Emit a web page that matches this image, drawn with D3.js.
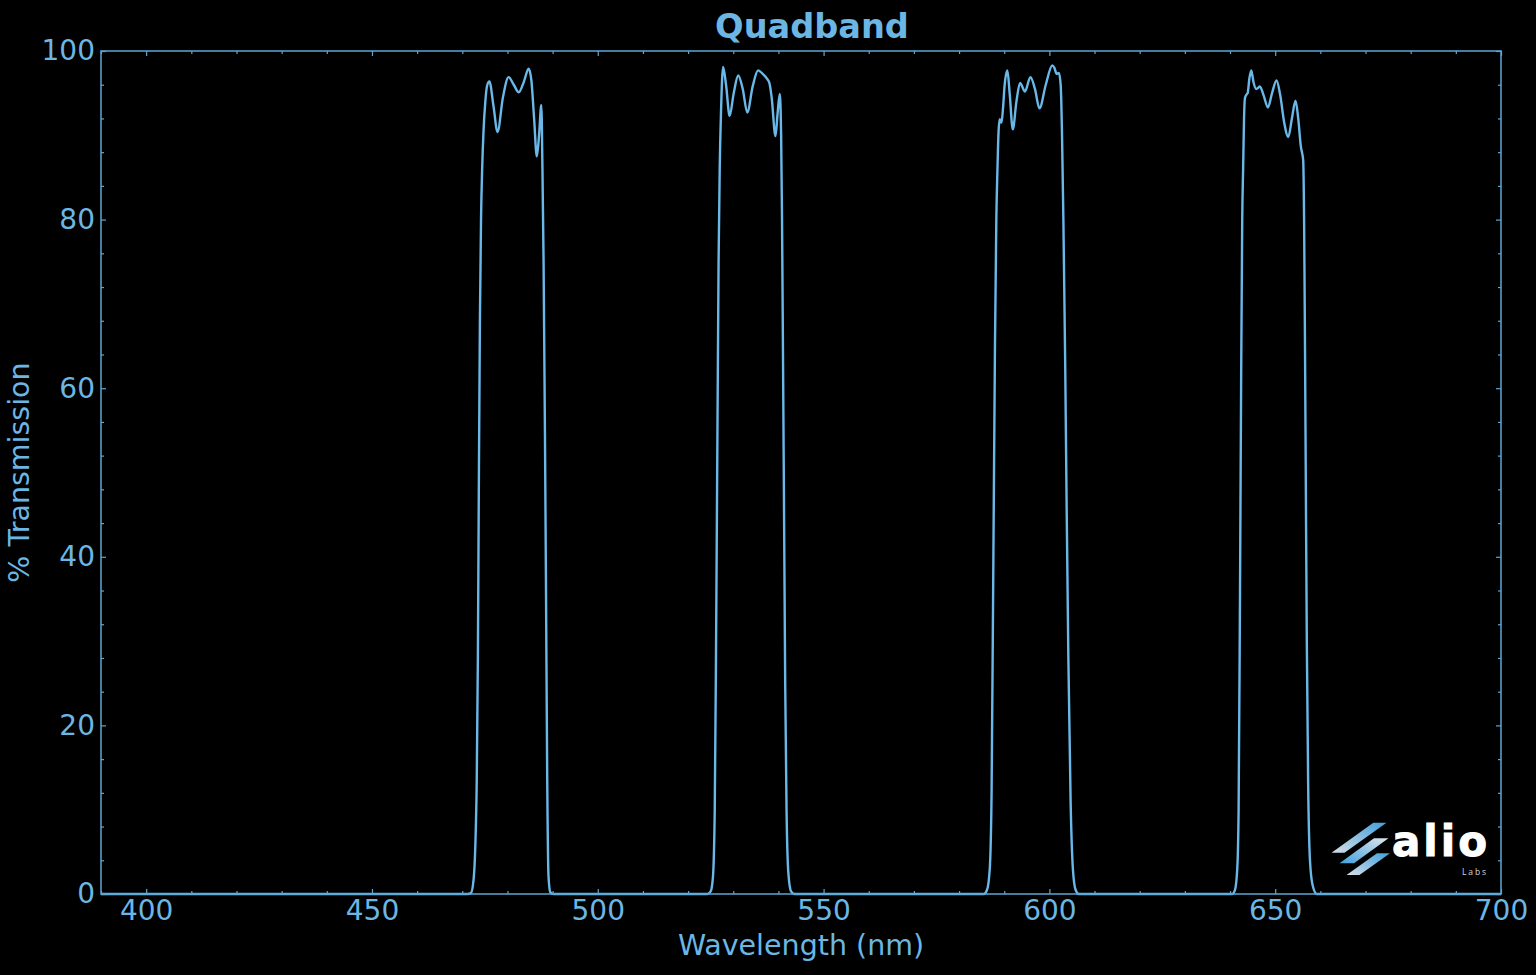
<!DOCTYPE html>
<html>
<head>
<meta charset="utf-8">
<script src="https://cdn.jsdelivr.net/npm/d3@7"></script>
<style>
  html, body { margin: 0; padding: 0; background: #000; }
  svg { display: block; }
</style>
</head>
<body>
<svg id="chart" width="1536" height="975"></svg>
<script>
// ---- data ----
const title = "Quadband";
const xLabel = "Wavelength (nm)";
const yLabel = "% Transmission";
const xDomain = [390, 700];
const yDomain = [0, 100];
const xMajorTicks = [400, 450, 500, 550, 600, 650, 700];
const yMajorTicks = [0, 20, 40, 60, 80, 100];

const band1Wl = [471.2, 471.9, 472.5, 472.9, 473.2, 473.45, 473.65, 473.9, 474.15, 474.4, 474.7, 475.1, 475.5, 476.0, 476.9, 477.8, 479.0, 480.25, 481.4, 482.5, 483.6, 484.7, 485.3, 485.9, 486.5, 487.0, 487.5, 487.75, 488.0, 488.3, 488.55, 488.8, 489.1, 489.5, 490.2];
const band1T  = [0, 0.1, 1.7, 6, 13.5, 28, 47, 68, 80, 86, 90.5, 94, 95.9, 96.4, 93.5, 90.4, 94.5, 96.9, 96.0, 95.1, 96.3, 97.9, 96.5, 92, 87.5, 90, 93.6, 86, 75, 55, 35, 14, 2, 0.2, 0];

const band2Wl = [524.3, 525.0, 525.5, 525.9, 526.2, 526.5, 526.75, 527.0, 527.3, 527.75, 528.4, 529.2, 530.1, 531.1, 532.1, 533.1, 534.3, 535.5, 536.5, 537.5, 538.0, 538.5, 539.35, 539.8, 540.3, 540.6, 540.8, 541.0, 541.25, 541.5, 541.8, 542.2, 542.8, 543.5];
const band2T  = [0, 0.3, 2, 10, 30, 55, 75, 86, 93, 98.1, 96, 92.3, 95, 97.1, 95.5, 92.7, 95.8, 97.7, 97.3, 96.7, 96.2, 94.5, 89.9, 92.5, 94.9, 90, 80, 65, 45, 25, 10, 2.5, 0.3, 0];

const band3Wl = [585.5, 586.2, 586.8, 587.2, 587.6, 587.95, 588.25, 588.5, 588.75, 589.0, 589.2, 589.4, 589.7, 590.1, 590.7, 591.2, 591.9, 592.7, 593.5, 594.6, 595.8, 596.8, 597.8, 599.2, 600.65, 601.1, 601.6, 602.1, 602.5, 602.8, 603.1, 603.5, 603.8, 604.2, 604.7, 605.2, 605.8, 606.5];
const band3T  = [0, 0.5, 3, 12, 40, 65, 80, 86, 90.5, 91.9, 91.6, 91.5, 93, 96, 97.7, 95, 90.7, 94, 96.2, 95.2, 96.9, 95.5, 93.2, 96, 98.3, 98.0, 97.3, 97.4, 96, 90, 80, 63, 47, 28, 11, 3, 0.5, 0];

const band4Wl = [640.5, 641.1, 641.6, 641.9, 642.2, 642.45, 642.7, 642.9, 643.1, 643.3, 643.6, 643.9, 644.3, 644.7, 645.2, 645.8, 646.2, 646.6, 647.4, 648.4, 649.3, 650.3, 651.1, 652.0, 652.9, 653.7, 654.5, 655.1, 655.7, 656.0, 656.2, 656.4, 656.6, 656.8, 657.0, 657.3, 657.7, 658.3, 659.2];
const band4T  = [0, 0.5, 3, 10, 35, 60, 80, 86, 92, 94.4, 94.8, 95, 96.8, 97.7, 96.3, 95.5, 95.6, 95.8, 94.8, 93.3, 95, 96.5, 94.8, 91.5, 89.8, 92, 94.1, 92, 88.6, 87.8, 87, 80, 65, 47, 30, 13, 4, 1, 0];

const baseWl = [390, 700];
const baseT = [0, 0];

// ---- layout ----
const svg = d3.select("#chart");
const W = 1536, H = 975;
const m = { left: 101, right: 35, top: 51, bottom: 81 };
const iw = W - m.left - m.right;   // 1400
const ih = H - m.top - m.bottom;   // 843

const textColor = "#6cb6e4";
const axisColor = "#5ea6d3";
const lineColor = "#6ab8e8";
const font = "'DejaVu Sans', sans-serif";

svg.append("rect").attr("width", W).attr("height", H).attr("fill", "#000");

const x = d3.scaleLinear().domain(xDomain).range([0, iw]);
const y = d3.scaleLinear().domain(yDomain).range([ih, 0]);

const g = svg.append("g").attr("transform", `translate(${m.left},${m.top})`);

// data series
const pts = [];
pts.push([baseWl[0], baseT[0]]);
[[band1Wl, band1T], [band2Wl, band2T], [band3Wl, band3T], [band4Wl, band4T]].forEach(([wl, t]) => {
  wl.forEach((w, i) => pts.push([w, t[i]]));
});
pts.push([baseWl[1], baseT[1]]);

const line = d3.line()
  .x(d => x(d[0]))
  .y(d => y(d[1]))
  .curve(d3.curveMonotoneX);

g.append("path")
  .datum(pts)
  .attr("fill", "none")
  .attr("stroke", lineColor)
  .attr("stroke-width", 2.4)
  .attr("stroke-linejoin", "round")
  .attr("d", line);

// axes
const xMinor = d3.range(390, 701, 10).filter(v => !xMajorTicks.includes(v));
const yMinor = d3.range(0, 101, 4).filter(v => !yMajorTicks.includes(v));

function styleAxis(sel) {
  sel.select(".domain").remove();
  sel.selectAll("line").attr("stroke", axisColor).attr("stroke-width", 1.2);
  sel.selectAll("text").attr("fill", textColor).attr("font-family", font).attr("font-size", 28);
}

// bottom
g.append("g").attr("transform", `translate(0,${ih})`)
  .call(d3.axisBottom(x).tickValues(xMajorTicks).tickSize(-5).tickPadding(6).tickFormat(d3.format("d")))
  .call(styleAxis);
g.append("g").attr("transform", `translate(0,${ih})`)
  .call(d3.axisBottom(x).tickValues(xMinor).tickSize(-3).tickFormat(""))
  .call(styleAxis);
// top
g.append("g")
  .call(d3.axisTop(x).tickValues(xMajorTicks).tickSize(-5).tickFormat(""))
  .call(styleAxis);
g.append("g")
  .call(d3.axisTop(x).tickValues(xMinor).tickSize(-3).tickFormat(""))
  .call(styleAxis);
// left
g.append("g")
  .call(d3.axisLeft(y).tickValues(yMajorTicks).tickSize(-5).tickPadding(6).tickFormat(d3.format("d")))
  .call(styleAxis);
g.append("g")
  .call(d3.axisLeft(y).tickValues(yMinor).tickSize(-3).tickFormat(""))
  .call(styleAxis);
// right
g.append("g").attr("transform", `translate(${iw},0)`)
  .call(d3.axisRight(y).tickValues(yMajorTicks).tickSize(-5).tickFormat(""))
  .call(styleAxis);
g.append("g").attr("transform", `translate(${iw},0)`)
  .call(d3.axisRight(y).tickValues(yMinor).tickSize(-3).tickFormat(""))
  .call(styleAxis);

// frame
g.append("rect")
  .attr("x", 0).attr("y", 0).attr("width", iw).attr("height", ih)
  .attr("fill", "none").attr("stroke", axisColor).attr("stroke-width", 1.5);

// title
svg.append("text")
  .attr("x", 812).attr("y", 38)
  .attr("text-anchor", "middle")
  .attr("fill", textColor)
  .attr("font-family", font)
  .attr("font-weight", "bold")
  .attr("font-size", 33.6)
  .text(title);

// axis labels
svg.append("text")
  .attr("x", m.left + iw / 2).attr("y", 955)
  .attr("text-anchor", "middle")
  .attr("fill", textColor)
  .attr("font-family", font)
  .attr("font-size", 28.5)
  .text(xLabel);

svg.append("text")
  .attr("transform", `translate(29,${m.top + ih / 2}) rotate(-90)`)
  .attr("text-anchor", "middle")
  .attr("fill", textColor)
  .attr("font-family", font)
  .attr("font-size", 28.5)
  .text(yLabel);

// ---- logo ----
const defs = svg.append("defs");
function grad(id, c1, c2) {
  const lg = defs.append("linearGradient").attr("id", id)
    .attr("x1", "100%").attr("y1", "0%").attr("x2", "0%").attr("y2", "100%");
  lg.append("stop").attr("offset", "0%").attr("stop-color", c1);
  lg.append("stop").attr("offset", "100%").attr("stop-color", c2);
}
grad("s1", "#3fa0de", "#d6dde4");
grad("s2", "#dfe6ec", "#3fa0de");
grad("s3", "#3fa0de", "#d6dde4");

const logo = svg.append("g");
const stripes = [
  { id: "s1", p: [[1373.3, 822.7], [1386.5, 822.7], [1344.5, 852.7], [1331.5, 852.7]] },
  { id: "s2", p: [[1374, 838.3], [1388.5, 838.3], [1354, 863.3], [1339.5, 863.3]] },
  { id: "s3", p: [[1377, 853.3], [1390, 853.3], [1359.5, 875], [1346.5, 875]] }
];
stripes.forEach(s => {
  logo.append("polygon")
    .attr("points", s.p.map(q => q.join(",")).join(" "))
    .attr("fill", `url(#${s.id})`);
});
logo.append("text")
  .attr("x", 1392).attr("y", 856)
  .attr("fill", "#ffffff")
  .attr("stroke", "#ffffff")
  .attr("stroke-width", 1)
  .attr("font-family", "'DejaVu Sans', sans-serif")
  .attr("font-weight", "bold")
  .attr("font-size", 42)
  .attr("textLength", 95)
  .attr("lengthAdjust", "spacing")
  .text("alio");
logo.append("text")
  .attr("x", 1462).attr("y", 875)
  .attr("fill", "#d8d8d8")
  .attr("font-family", "'Open Sans', sans-serif")
  .attr("font-size", 8.5)
  .attr("textLength", 24)
  .attr("lengthAdjust", "spacing")
  .text("Labs");
</script>
</body>
</html>
